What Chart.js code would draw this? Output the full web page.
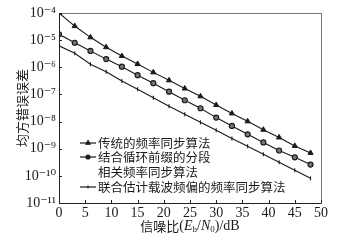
<!DOCTYPE html>
<html>
<head>
<meta charset="utf-8">
<script src="https://cdn.jsdelivr.net/npm/chart.js@4.4.1/dist/chart.umd.min.js"></script>
<style>
  html, body { margin: 0; padding: 0; background: #fff; }
  #wrap { width: 354px; height: 244px; }
</style>
</head>
<body>
<div id="wrap"><canvas id="mse-chart" width="354" height="244"></canvas></div>
<script>
// SNR points (dB)
const snr = [0, 3, 6, 9, 12, 15, 18, 21, 24, 27, 30, 33, 36, 39, 42, 45, 48];

// mean square error of each algorithm
const traditional = [1e-4, 3.3e-5, 1.27e-5, 5.5e-6, 2.6e-6, 1.32e-6, 6.5e-7, 3.3e-7, 1.65e-7,
    8.5e-8, 4.1e-8, 2.0e-8, 1.02e-8, 5.0e-9, 2.6e-9, 1.27e-9, 7.0e-10];
const cyclicPrefix = [1.64e-5, 8.0e-6, 4.0e-6, 2.0e-6, 1.05e-6, 5.1e-7, 2.6e-7, 1.26e-7, 6.1e-8,
    3.1e-8, 1.4e-8, 6.9e-9, 3.4e-9, 1.7e-9, 8.6e-10, 4.8e-10, 2.6e-10];
const jointEstimate = [6.2e-6, 3.3e-6, 1.3e-6, 6.9e-7, 3.1e-7, 1.54e-7, 7.6e-8, 3.7e-8, 1.85e-8,
    9.4e-9, 4.8e-9, 2.4e-9, 1.23e-9, 6.2e-10, 3.2e-10, 1.6e-10, 8.1e-11];

// legend text (second label wraps onto two lines)
const seriesLabels = [
    ['传统的频率同步算法'],
    ['结合循环前缀的分段', '相关频率同步算法'],
    ['联合估计载波频偏的频率同步算法']
];

// y tick labels for each decade
const yTickText = {
    '-4': '10⁻⁴', '-5': '10⁻⁵', '-6': '10⁻⁶', '-7': '10⁻⁷', '-8': '10⁻⁸',
    '-9': '10⁻⁹', '-10': '10⁻¹⁰', '-11': '10⁻¹¹'
};

const serif = '"Liberation Serif", "DejaVu Serif", serif';
const cjk = '"Noto Sans CJK SC", sans-serif';
const ink = '#1a1a1a';

function toPoints(values) {
    return values.map((v, i) => ({ x: snr[i], y: v }));
}

// draws the frame, inward ticks, axis titles and the legend
const decorations = {
    id: 'decorations',
    afterDraw(chart) {
        const ctx = chart.ctx;
        const area = chart.chartArea;
        const xs = chart.scales.x;
        const ys = chart.scales.y;
        ctx.save();

        // frame
        ctx.strokeStyle = '#777';
        ctx.lineWidth = 1;
        ctx.strokeRect(area.left + 0.5, area.top + 0.5, area.right - area.left, area.bottom - area.top);
        ctx.strokeStyle = '#222';
        ctx.beginPath();
        ctx.moveTo(area.left + 0.5, area.top);
        ctx.lineTo(area.left + 0.5, area.bottom + 0.5);
        ctx.lineTo(area.right, area.bottom + 0.5);
        ctx.stroke();

        // inward ticks
        ctx.beginPath();
        xs.ticks.forEach(t => {
            const px = Math.round(xs.getPixelForValue(t.value)) + 0.5;
            ctx.moveTo(px, area.bottom);
            ctx.lineTo(px, area.bottom - 3);
        });
        ys.ticks.forEach(t => {
            const py = Math.round(ys.getPixelForValue(t.value)) + 0.5;
            ctx.moveTo(area.left, py);
            ctx.lineTo(area.left + 3, py);
        });
        ctx.stroke();

        // y title
        ctx.fillStyle = ink;
        ctx.font = '13px ' + cjk;
        ctx.textAlign = 'center';
        ctx.textBaseline = 'middle';
        ctx.translate(22, (area.top + area.bottom) / 2);
        ctx.rotate(-Math.PI / 2);
        ctx.fillText('均方错误误差', 0, 0);
        ctx.setTransform(1, 0, 0, 1, 0, 0);

        // x title with subscripts
        const parts = [
            { t: '信噪比', f: '13px ' + cjk, dy: 0 },
            { t: '(', f: '14px ' + serif, dy: 0 },
            { t: 'E', f: 'italic 14px ' + serif, dy: 0 },
            { t: 'b', f: '9px ' + serif, dy: 4 },
            { t: '/', f: '14px ' + serif, dy: 0 },
            { t: 'N', f: 'italic 14px ' + serif, dy: 0 },
            { t: '0', f: '9px ' + serif, dy: 4 },
            { t: ')/dB', f: '14px ' + serif, dy: 0 }
        ];
        let total = 0;
        parts.forEach(p => { ctx.font = p.f; p.w = ctx.measureText(p.t).width; total += p.w; });
        let cx = (area.left + area.right) / 2 - total / 2;
        ctx.textAlign = 'left';
        parts.forEach(p => {
            ctx.font = p.f;
            ctx.fillText(p.t, cx, 226 + p.dy);
            cx += p.w;
        });

        // legend
        const rows = [143, 157, 187];
        ctx.font = '12.5px ' + cjk;
        chart.data.datasets.forEach((ds, i) => {
            const y = rows[i];
            ctx.strokeStyle = ink;
            ctx.lineWidth = 1.2;
            ctx.beginPath();
            ctx.moveTo(80, y);
            ctx.lineTo(96, y);
            ctx.stroke();
            Chart.helpers.drawPoint(ctx, {
                pointStyle: ds.pointStyle,
                rotation: ds.pointRotation || 0,
                radius: ds.pointRadius * 0.8,
                borderWidth: ds.pointBorderWidth || 1
            }, 88, y);
            ctx.fillStyle = ink;
            seriesLabels[i].forEach((line, k) => {
                ctx.fillText(line, 98, y + k * 15);
            });
        });
        ctx.restore();
    }
};

new Chart(document.querySelector('#mse-chart').getContext('2d'), {
    type: 'line',
    data: {
        datasets: [
            {
                label: seriesLabels[0].join(''),
                data: toPoints(traditional),
                borderColor: ink,
                backgroundColor: ink,
                borderWidth: 1.1,
                pointStyle: 'triangle',
                pointRadius: 3,
                pointBorderWidth: 1
            },
            {
                label: seriesLabels[1].join(''),
                data: toPoints(cyclicPrefix),
                borderColor: ink,
                backgroundColor: '#777',
                borderWidth: 1.1,
                pointStyle: 'circle',
                pointRadius: 2.5,
                pointBorderWidth: 1.2
            },
            {
                label: seriesLabels[2].join(''),
                data: toPoints(jointEstimate),
                borderColor: ink,
                backgroundColor: ink,
                borderWidth: 1.1,
                pointStyle: 'line',
                pointRotation: 90,
                pointRadius: 2,
                pointBorderWidth: 1.1
            }
        ]
    },
    options: {
        responsive: false,
        animation: false,
        layout: { padding: { top: 13, right: 33, left: 0, bottom: 0 } },
        plugins: {
            legend: { display: false },
            tooltip: { enabled: false }
        },
        scales: {
            x: {
                type: 'linear',
                min: 0,
                max: 50,
                border: { display: false },
                grid: { display: false, drawTicks: false },
                ticks: {
                    stepSize: 5,
                    padding: 2,
                    color: ink,
                    font: { family: serif, size: 14 }
                },
                afterFit(scale) { scale.height = 41; }
            },
            y: {
                type: 'logarithmic',
                min: 1e-11,
                max: 1e-4,
                border: { display: false },
                grid: { display: false, drawTicks: false },
                afterBuildTicks(scale) {
                    const ticks = [];
                    for (let e = -11; e <= -4; e++) ticks.push({ value: Math.pow(10, e) });
                    scale.ticks = ticks;
                },
                ticks: {
                    padding: 3,
                    color: ink,
                    font: { family: serif, size: 14 },
                    callback(value) {
                        return yTickText[String(Math.round(Math.log10(value)))];
                    }
                },
                afterFit(scale) { scale.width = 59; }
            }
        }
    },
    plugins: [decorations]
});
</script>
</body>
</html>
